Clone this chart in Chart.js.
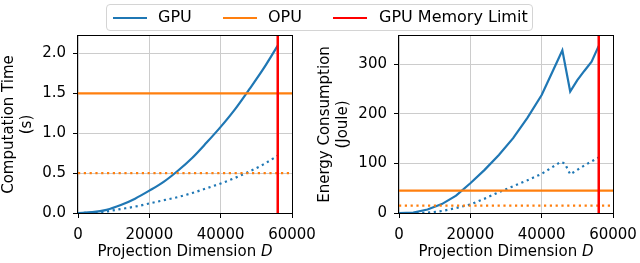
<!DOCTYPE html>
<html>
<head>
<meta charset="utf-8">
<script src="https://cdn.jsdelivr.net/npm/chart.js@4"></script>
<style>
  body { margin: 0; background: #fff; font-family: "DejaVu Sans", sans-serif; }
  #wrap { position: relative; width: 640px; height: 263px; overflow: hidden; }
  canvas { position: absolute; top: 0; }
  #legend { position: absolute; left: 106px; top: 4px; width: 427px; height: 27px; box-sizing: border-box;
            border: 1px solid #d4d4d4; border-radius: 4px; background: rgba(255,255,255,0.85); z-index: 2;
            font-size: 16px; color: #000; }
  .sw { position: absolute; top: 12px; width: 34px; height: 2px; }
  .lb { position: absolute; top: 3px; line-height: 18px; }
</style>
</head>
<body>
<div id="wrap">
  <div id="legend">
    <div class="sw" style="left:6px;background:#1f77b4"></div><div class="lb" style="left:51px">GPU</div>
    <div class="sw" style="left:116px;background:#ff7f0e"></div><div class="lb" style="left:161px">OPU</div>
    <div class="sw" style="left:226px;background:#ff0000"></div><div class="lb" style="left:272px">GPU Memory Limit</div>
  </div>
  <canvas id="timeChart" style="left:0px"></canvas>
  <canvas id="energyChart" style="left:316px"></canvas>
</div>
<script>
// x axis
const xMin = 0;
const xMax = 60000;
const xTicks = [0, 20000, 40000, 60000];
const memoryLimit = 56000;

// computation time (s)
const timeDims = [0, 4000, 8000, 12000, 16000, 20000, 24000, 28000, 32000, 36000, 40000, 44000, 48000, 52000, 56000];
const gpuTime = [0, 0.01, 0.04, 0.10, 0.18, 0.28, 0.39, 0.53, 0.69, 0.88, 1.08, 1.30, 1.55, 1.81, 2.10];
const gpuTimeAlt = [0, 0.003, 0.02, 0.05, 0.08, 0.12, 0.16, 0.20, 0.25, 0.31, 0.37, 0.44, 0.52, 0.61, 0.72];
const opuTime = 1.5;
const opuTimeAlt = 0.5;
const timeTicks = [0, 0.5, 1.0, 1.5, 2.0];
const timeMax = 2.22;

// energy consumption (Joule)
const energyDims = [0, 4000, 8000, 12000, 16000, 20000, 24000, 28000, 32000, 36000, 40000, 44000, 45800, 48000, 50000, 52000, 54000, 56000];
const gpuEnergy = [0, 1, 7, 18, 35, 60, 87, 117, 151, 192, 238, 300, 328, 245, 268, 287, 305, 337];
const energyDimsAlt = [0, 4000, 8000, 12000, 16000, 20000, 24000, 28000, 32000, 36000, 40000, 44000, 45300, 46500, 48000, 52000, 56000];
const gpuEnergyAlt = [0, 0, 0.5, 4, 10, 17, 29, 42, 54, 66, 79, 97, 103, 100, 78, 96, 112];
const opuEnergy = 45;
const opuEnergyAlt = 15;
const energyTicks = [0, 100, 200, 300];
const energyMax = 357;

const BLUE = '#1f77b4';
const ORANGE = '#ff7f0e';
const RED = '#ff0000';
const FONT = '"DejaVu Sans", sans-serif';

const toPoints = (xs, ys) => xs.map((x, i) => ({ x: x, y: ys[i] }));
const hLine = (y) => [{ x: xMin, y: y }, { x: xMax, y: y }];

// draws the top/right spines too, matplotlib style
const framePlugin = {
    id: 'frame',
    afterDatasetsDraw(chart) {
        const { ctx, chartArea } = chart;
        ctx.save();
        ctx.strokeStyle = '#000';
        ctx.lineWidth = 1;
        ctx.strokeRect(Math.round(chartArea.left) - 0.5, Math.round(chartArea.top) - 0.5,
            Math.round(chartArea.right - chartArea.left) + 1, Math.round(chartArea.bottom - chartArea.top) + 1);
        ctx.restore();
    }
};

// x title with an italic D
const xTitlePlugin = {
    id: 'xTitle',
    afterDraw(chart) {
        const { ctx, chartArea } = chart;
        const a = 'Projection Dimension ';
        const b = 'D';
        ctx.save();
        ctx.fillStyle = '#000';
        ctx.textBaseline = 'middle';
        ctx.font = '15px ' + FONT;
        const wa = ctx.measureText(a).width;
        ctx.font = 'italic 15px ' + FONT;
        const wb = ctx.measureText(b).width;
        const x0 = (chartArea.left + chartArea.right) / 2 - (wa + wb) / 2;
        ctx.font = '15px ' + FONT;
        ctx.fillText(a, x0, 252);
        ctx.font = 'italic 15px ' + FONT;
        ctx.fillText(b, x0 + wa, 252);
        ctx.restore();
    }
};

function makeChart(id, cfg) {
    const canvas = document.getElementById(id);
    canvas.width = 320;
    canvas.height = 263;
    const curve = cfg.smooth ? { cubicInterpolationMode: 'monotone' } : {};
    return new Chart(canvas.getContext('2d'), {
        type: 'line',
        data: {
            datasets: [
                { data: [{ x: memoryLimit, y: 0 }, { x: memoryLimit, y: cfg.yMax }], borderColor: RED, borderWidth: 2.5, order: 0 },
                { data: hLine(cfg.opu), borderColor: ORANGE, borderWidth: 2.2, order: 1 },
                { data: hLine(cfg.opuAlt), borderColor: ORANGE, borderWidth: 2.2, borderDash: [2.2, 3.6], order: 1 },
                Object.assign({ data: cfg.gpu, borderColor: BLUE, borderWidth: 2.2, order: 2 }, curve),
                Object.assign({ data: cfg.gpuAlt, borderColor: BLUE, borderWidth: 2.2, borderDash: [2.2, 3.6], order: 2 }, curve)
            ]
        },
        options: {
            responsive: false,
            animation: false,
            events: [],
            layout: { padding: { left: 0, right: cfg.padRight, top: 36, bottom: 0 } },
            elements: { point: { radius: 0 }, line: { tension: 0, fill: false, borderCapStyle: 'butt' } },
            plugins: { legend: { display: false }, tooltip: { enabled: false } },
            scales: {
                x: {
                    type: 'linear',
                    min: xMin,
                    max: xMax,
                    afterBuildTicks: (s) => { s.ticks = xTicks.map(v => ({ value: v })); },
                    afterFit: (s) => { s.height = 50; s.paddingLeft = 0; s.paddingRight = 0; },
                    grid: { color: '#cccccc', lineWidth: 1, tickLength: 5, tickColor: '#000' },
                    border: { display: false },
                    ticks: { color: '#000', font: { family: FONT, size: 15 }, padding: 8, maxRotation: 0,
                             callback: (v) => String(v) }
                },
                y: {
                    type: 'linear',
                    min: 0,
                    max: cfg.yMax,
                    afterBuildTicks: (s) => { s.ticks = cfg.yTicks.map(v => ({ value: v })); },
                    afterFit: (s) => { s.width = cfg.yWidth; },
                    grid: { color: '#cccccc', lineWidth: 1, tickLength: 5, tickColor: '#000' },
                    border: { display: false },
                    ticks: { color: '#000', font: { family: FONT, size: 15 }, padding: 7,
                             callback: cfg.yFormat },
                    title: { display: true, text: cfg.yTitle, color: '#000',
                             font: { family: FONT, size: 15, lineHeight: 1.2 }, padding: 0 }
                }
            }
        },
        plugins: [framePlugin, xTitlePlugin]
    });
}

makeChart('timeChart', {
    gpu: toPoints(timeDims, gpuTime),
    gpuAlt: toPoints(timeDims, gpuTimeAlt),
    opu: opuTime,
    opuAlt: opuTimeAlt,
    yMax: timeMax,
    yTicks: timeTicks,
    yFormat: (v) => v.toFixed(1),
    yTitle: ['Computation Time', '(s)'],
    yWidth: 78,
    padRight: 28,
    smooth: true
});

makeChart('energyChart', {
    gpu: toPoints(energyDims, gpuEnergy),
    gpuAlt: toPoints(energyDimsAlt, gpuEnergyAlt),
    opu: opuEnergy,
    opuAlt: opuEnergyAlt,
    yMax: energyMax,
    yTicks: energyTicks,
    yFormat: (v) => String(v),
    yTitle: ['Energy Consumption', '(Joule)'],
    yWidth: 83,
    padRight: 23,
    smooth: false
});
</script>
</body>
</html>
